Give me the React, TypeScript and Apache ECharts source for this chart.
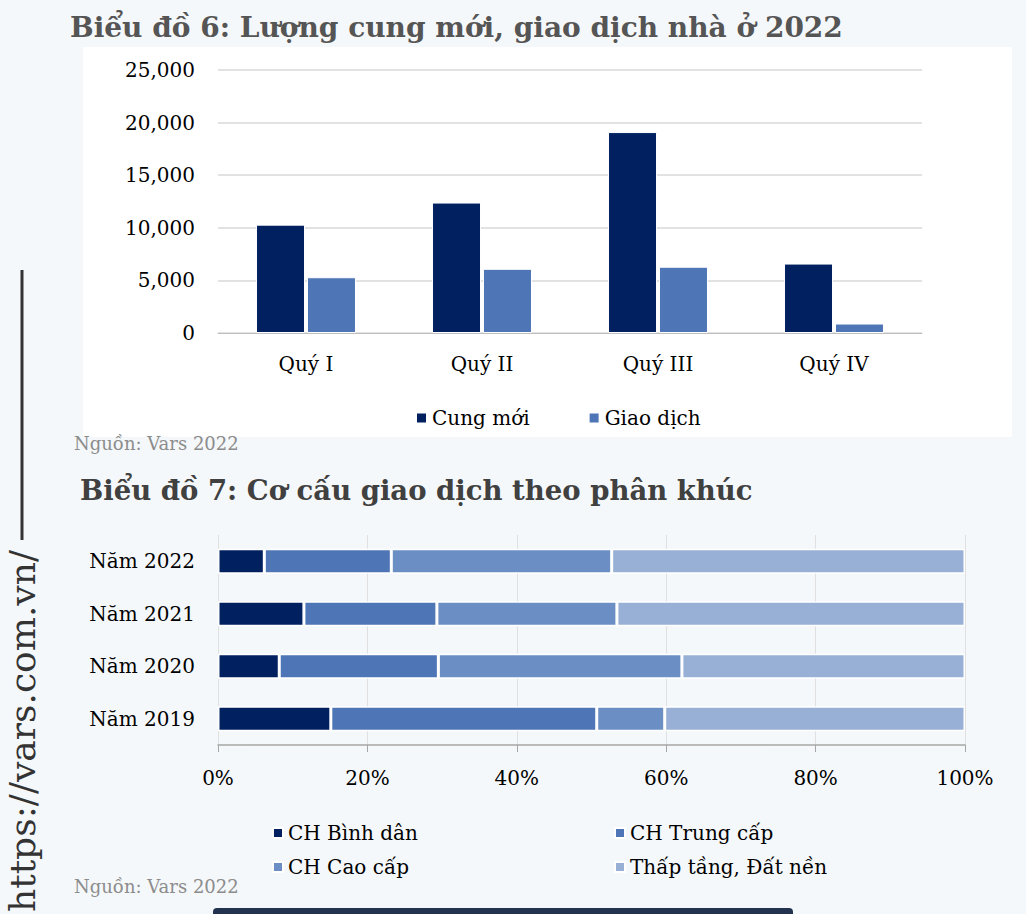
import React, { useEffect, useRef } from "react";
import * as echarts from "echarts";

// ---- Chart 6 data ----
const quarters = ["Quý I", "Quý II", "Quý III", "Quý IV"];
const newSupply = [10300, 12400, 19100, 6600];
const transactions = [5300, 6100, 6300, 900];

// ---- Chart 7 data ----
const years = ["Năm 2019", "Năm 2020", "Năm 2021", "Năm 2022"];
const affordable = [15.1, 8.2, 11.5, 6.2];
const midEnd = [35.6, 21.3, 17.8, 17.0];
const highEnd = [9.1, 32.6, 24.1, 29.5];
const lowRise = [40.2, 37.9, 46.6, 47.3];

const segNames = ["CH Bình dân", "CH Trung cấp", "CH Cao cấp", "Thấp tầng, Đất nền"];
const segColors = ["#002060", "#4E75B6", "#6B8FC4", "#98B0D6"];

const FONT = "'DejaVu Serif', serif";

export default function App() {
  const ref = useRef<HTMLDivElement>(null);

  useEffect(() => {
    document.body.style.margin = "0";
    const chart = echarts.init(ref.current!, undefined, { renderer: "svg" });
    const labelStyle = { fontFamily: FONT, fontSize: 20, color: "#000" };

    const segData = [affordable, midEnd, highEnd, lowRise];

    chart.setOption({
      animation: false,
      backgroundColor: "#F5F8FA",
      graphic: [
        { type: "rect", z: -10, shape: { x: 83, y: 47, width: 929, height: 390 }, style: { fill: "#FFFFFF" } },
        { type: "text", left: 70, top: 13, style: { text: "Biểu đồ 6: Lượng cung mới, giao dịch nhà ở 2022", font: `bold 28px ${FONT}`, fill: "#555555" } },
        { type: "text", left: 74, top: 434, style: { text: "Nguồn: Vars 2022", font: `18px ${FONT}`, fill: "#8C8C8C" } },
        { type: "text", left: 80, top: 476, style: { text: "Biểu đồ 7: Cơ cấu giao dịch theo phân khúc", font: `bold 27.5px ${FONT}`, fill: "#404040" } },
        { type: "text", left: 74, top: 877, style: { text: "Nguồn: Vars 2022", font: `18px ${FONT}`, fill: "#8C8C8C" } },
        { type: "line", shape: { x1: 22, y1: 270, x2: 22, y2: 540 }, style: { stroke: "#333333", lineWidth: 3 } },
        {
          type: "text", x: 22, y: 912, rotation: Math.PI / 2,
          style: { text: "https://vars.com.vn/", font: `36px ${FONT}`, fill: "#333333", textAlign: "left", textVerticalAlign: "middle" },
        },
        { type: "rect", shape: { x: 213, y: 908, width: 580, height: 12, r: 4 }, style: { fill: "#22324F" } },
      ],
      legend: [
        {
          data: ["Cung mới", "Giao dịch"], left: 410, top: 403, itemWidth: 11, itemHeight: 11, itemGap: 58,
          icon: "rect", textStyle: { ...labelStyle },
        },
        { data: [segNames[0]], left: 267, top: 818, itemWidth: 10, itemHeight: 10, icon: "rect", textStyle: { ...labelStyle } },
        { data: [segNames[1]], left: 609, top: 818, itemWidth: 10, itemHeight: 10, icon: "rect", textStyle: { ...labelStyle } },
        { data: [segNames[2]], left: 267, top: 852, itemWidth: 10, itemHeight: 10, icon: "rect", textStyle: { ...labelStyle } },
        { data: [segNames[3]], left: 609, top: 852, itemWidth: 10, itemHeight: 10, icon: "rect", textStyle: { ...labelStyle } },
      ],
      grid: [
        { left: 218, width: 704, top: 70, height: 263 },
        { left: 218, width: 747, top: 535, height: 210 },
      ],
      xAxis: [
        {
          gridIndex: 0, type: "category", data: quarters,
          axisLine: { lineStyle: { color: "#BFBFBF", width: 1 } },
          axisTick: { alignWithLabel: true, length: 6, lineStyle: { color: "#BFBFBF" } },
          axisLabel: { ...labelStyle, margin: 21 },
        },
        {
          gridIndex: 1, type: "value", min: 0, max: 100, interval: 20,
          axisLine: { show: true, lineStyle: { color: "#A6A6A6", width: 1.5 } },
          axisTick: { show: true, length: 7, lineStyle: { color: "#A6A6A6" } },
          splitLine: { show: true, lineStyle: { color: "#E0E0E0" } },
          axisLabel: { ...labelStyle, margin: 23, formatter: "{value}%" },
        },
      ],
      yAxis: [
        {
          gridIndex: 0, type: "value", min: 0, max: 25000, interval: 5000,
          axisLine: { show: false }, axisTick: { show: false },
          splitLine: { lineStyle: { color: "#D9D9D9", width: 1.5 } },
          axisLabel: { ...labelStyle, margin: 23, formatter: (v: number) => v.toLocaleString("en-US") },
        },
        {
          gridIndex: 1, type: "category", data: years,
          axisLine: { show: false }, axisTick: { show: false },
          axisLabel: { ...labelStyle, margin: 23 },
        },
      ],
      series: [
        {
          name: "Cung mới", type: "bar", xAxisIndex: 0, yAxisIndex: 0, data: newSupply,
          barWidth: 49, barGap: "4%", itemStyle: { color: "#002060", borderColor: "#fff", borderWidth: 1 },
        },
        {
          name: "Giao dịch", type: "bar", xAxisIndex: 0, yAxisIndex: 0, data: transactions,
          barWidth: 49, barGap: "4%", itemStyle: { color: "#4E75B6", borderColor: "#fff", borderWidth: 1 },
        },
        ...segNames.map((name, i) => ({
          name, type: "bar", stack: "seg", xAxisIndex: 1, yAxisIndex: 1, data: segData[i],
          barWidth: 25, itemStyle: { color: segColors[i], borderColor: "#fff", borderWidth: 1.5 },
        })),
      ],
    });
    return () => chart.dispose();
  }, []);

  return <div ref={ref} style={{ width: 1026, height: 914 }} />;
}
